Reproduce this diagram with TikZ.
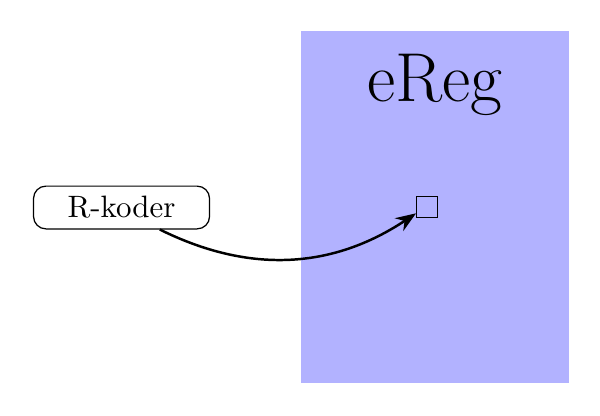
\documentclass[tikz,border=0pt]{standalone}
\usetikzlibrary{arrows.meta}
\begin{document}
\begin{tikzpicture}[box/.style={draw, rounded corners, minimum width=2cm},slot/.style={draw},link/.style={-{Stealth}, thick}]
\useasboundingbox (0,0) rectangle (6.818,-4.716);
\node[fill=blue!30, minimum width=3.046cm, minimum height=4cm, inner sep=0pt] (ereg) at (4.943,-2.352) {};
\node[font=\fontsize{22.4}{27}\selectfont, anchor=base] (title) at (4.943,-1.159) {eReg};
\node[box] (rk) at (1.381,-2.358) {R-koder};
\node[slot] (sq) at (4.852,-2.352) {};
\draw[link] (rk) to[bend right] (sq);
\end{tikzpicture}
\end{document}
